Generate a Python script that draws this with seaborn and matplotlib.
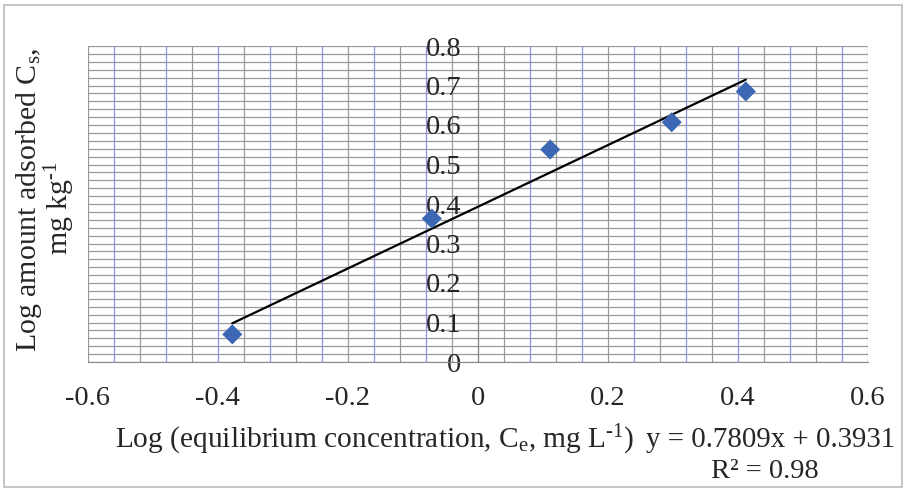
import numpy as np
import pandas as pd
import seaborn as sns
import matplotlib.pyplot as plt
import matplotlib.patches as mpatches

# data
log_ce = [-0.378, -0.071, 0.111, 0.298, 0.412]
log_cs = [0.070, 0.363, 0.538, 0.607, 0.685]
slope = 0.7809
intercept = 0.3931
r2 = 0.98
x_ticks = [-0.6, -0.4, -0.2, 0, 0.2, 0.4, 0.6]
y_ticks = [0, 0.1, 0.2, 0.3, 0.4, 0.5, 0.6, 0.7, 0.8]

sns.set_style("white")
plt.rcParams['font.family'] = ['Liberation Serif', 'DejaVu Serif']
plt.rcParams['mathtext.fontset'] = 'custom'
plt.rcParams['mathtext.rm'] = 'Liberation Serif'
plt.rcParams['mathtext.it'] = 'Liberation Serif:italic'

df = pd.DataFrame({"x": log_ce, "y": log_cs})
trend = pd.DataFrame({"x": [min(log_ce), max(log_ce)]})
trend["y"] = slope * trend["x"] + intercept

fig = plt.figure(figsize=(9.07, 4.91), dpi=100)
ax = fig.add_axes([88/907, 1 - 362/491, 780/907, 316/491])

# grid: horizontal every 0.02, vertical every 0.04
for yv in np.arange(0, 0.8001, 0.02):
    ax.axhline(yv, color='#9a9a9a', lw=0.9, zorder=0)
for i, xv in enumerate(np.arange(-0.6, 0.6001, 0.04)):
    c = '#9090e0' if i % 2 == 1 else '#9a9a9a'
    ax.axvline(xv, color=c, lw=0.9, zorder=0)

sns.lineplot(data=trend, x="x", y="y", color='black', lw=1.6, ax=ax, zorder=3)
sns.scatterplot(data=df, x="x", y="y", marker='D', s=105, color='#3c67b4',
                edgecolor='none', ax=ax, zorder=4)

for s in ['top', 'right']:
    ax.spines[s].set_visible(False)
ax.spines['left'].set_position(('data', 0))
ax.spines['left'].set_color('#888888')
ax.spines['bottom'].set_color('#888888')
ax.spines['left'].set_zorder(1)

ax.set_xlim(-0.6, 0.6)
ax.set_ylim(0, 0.8)
ax.set_xticks(x_ticks)
ax.set_yticks(y_ticks)
ax.set_xticklabels([f"{v:g}" for v in x_ticks])
ax.set_yticklabels([f"{v:g}" for v in y_ticks])
ax.set_xlabel("")
ax.set_ylabel("")
ax.tick_params(axis='x', direction='out', length=6, width=0.9, color='#888888',
               pad=11, labelsize=20.5)
ax.tick_params(axis='y', length=0, pad=12, labelsize=20.5)

fig.text(115/907, 1 - 440/491, r"Log (equilibrium concentration, C$_\mathregular{e}$, mg L$^\text{-1}$)",
         fontsize=21.2, ha='left', va='center')
fig.text(646/907, 1 - 440/491, f"y = {slope}x + {intercept}",
         fontsize=20.8, ha='left', va='center')
fig.text(765/907, 1 - 471/491, f"R² = {r2}", fontsize=20.5, ha='center', va='center')
fig.text(29/907, 1 - 200/491, r"Log amount adsorbed C$_\mathregular{s}$,",
         fontsize=21.5, rotation=90, ha='center', va='center')
fig.text(60/907, 1 - 208/491, r"mg kg$^\text{-1}$",
         fontsize=21.5, rotation=90, ha='center', va='center')

fig.patches.append(mpatches.Rectangle((4/907, 4/491), 898/907, 482/491, transform=fig.transFigure,
                                      fill=False, edgecolor='#bbbbbb', lw=1.2))

fig.savefig("out.png", dpi=100)
